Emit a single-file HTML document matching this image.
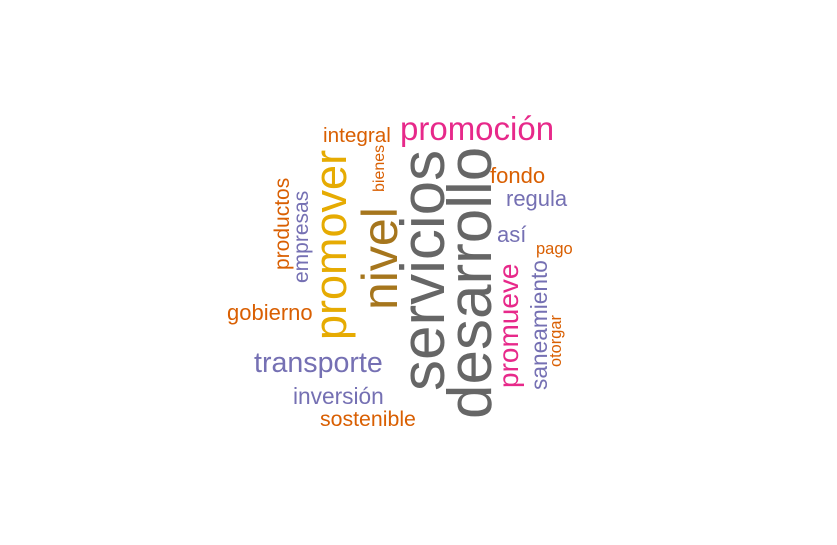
<!DOCTYPE html>
<html><head><meta charset="utf-8"><style>
html,body{margin:0;padding:0;background:#fff;}
svg text{font-family:"Liberation Sans",Arial,sans-serif;}
</style></head><body>
<svg id="cloud" width="837" height="540" viewBox="0 0 837 540" xmlns="http://www.w3.org/2000/svg"></svg>
<script>
const words = ["servicios","desarrollo","nivel","promover","promoción","transporte","promueve","integral","fondo","regula","así","pago","gobierno","inversión","sostenible","empresas","productos","bienes","saneamiento","otorgar"];
const sizes = [62,62,50,45,33,28.6,28,20.7,22,22,22,16.5,22,22.7,21.3,21,21,16,22.7,16.4];
const colors = ["#666666","#666666","#A6761D","#E6AB02","#E7298A","#7570B3","#E7298A","#D95F02","#D95F02","#7570B3","#7570B3","#D95F02","#D95F02","#7570B3","#D95F02","#7570B3","#D95F02","#D95F02","#7570B3","#D95F02"];
const rotated = [1,1,1,1,0,0,1,0,0,0,0,0,0,0,0,1,1,1,1,1];
const anchorX = [444,491,397,346,400,254,518,323,490,506,497,536,227,293,320,308,289,384,547,561];
const anchorY = [391,419,310,340,140,372,388,142,183,206,242,254,320,404,426,283,270,192,390,367];
const svg = document.getElementById('cloud');
words.forEach((w,i)=>{
  const t = document.createElementNS('http://www.w3.org/2000/svg','text');
  t.textContent = w;
  t.setAttribute('x', anchorX[i]);
  t.setAttribute('y', anchorY[i]);
  t.setAttribute('font-size', sizes[i]);
  t.setAttribute('fill', colors[i]);
  if (rotated[i]) t.setAttribute('transform', `rotate(-90 ${anchorX[i]} ${anchorY[i]})`);
  
  
  svg.appendChild(t);
});
</script>
</body></html>
